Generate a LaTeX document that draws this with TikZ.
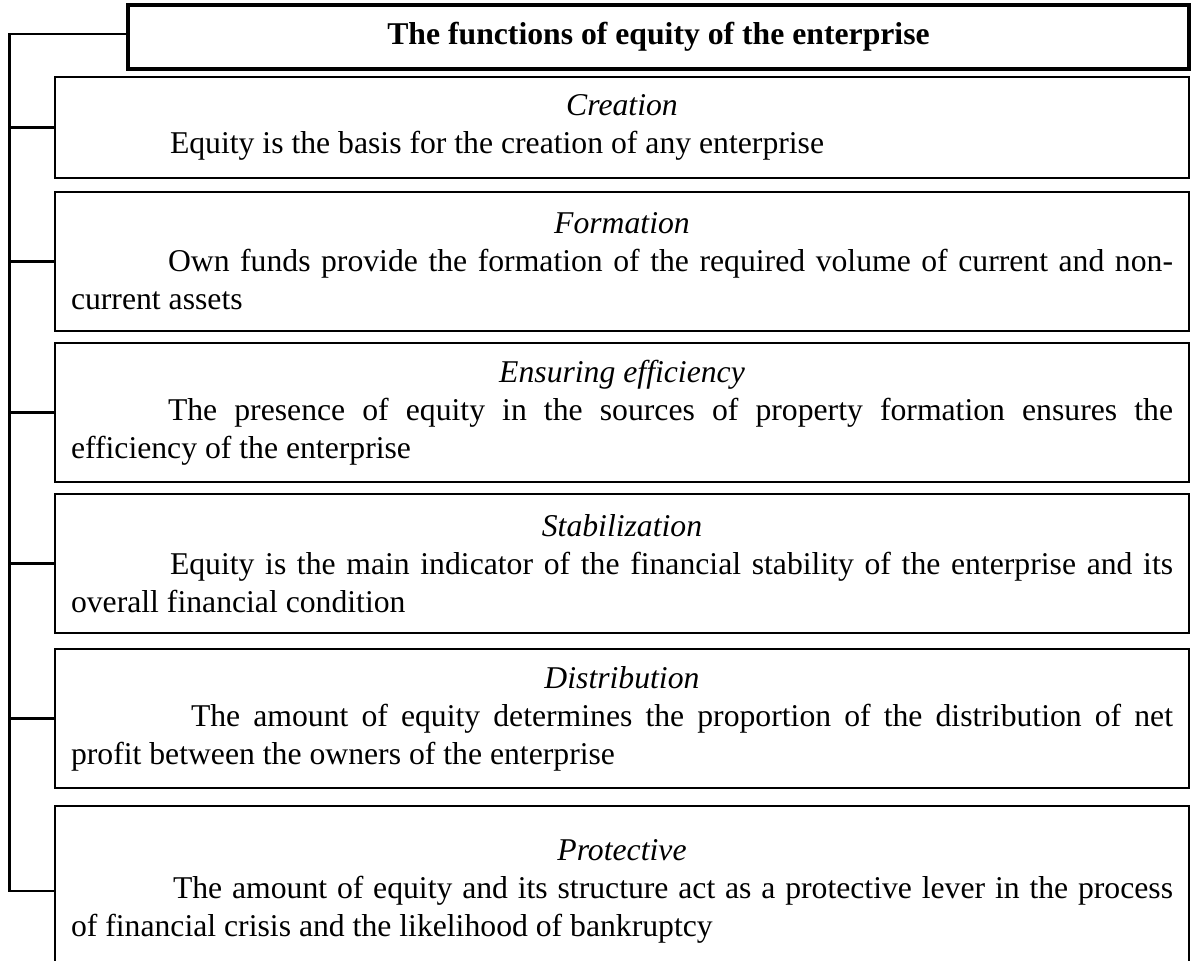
\documentclass[tikz,border=0pt]{standalone}
\usepackage{fontspec}
\setmainfont{Liberation Serif}
\tolerance=9999
\hbadness=10000
\newcommand{\bodysize}{\fontsize{31.7pt}{38pt}\selectfont}
\begin{document}
\begin{tikzpicture}[x=1pt,y=-1pt,
  fnbox/.style={draw, rectangle, line width=2.7pt, anchor=center,
    minimum width=1134pt, text width=1102pt, inner xsep=16pt, inner ysep=0pt,
    align=justify, font=\bodysize},
  titlebox/.style={draw, rectangle, line width=4.5pt, minimum width=1061pt,
    minimum height=64pt, inner sep=0pt, font=\bodysize\bfseries},
  conn/.style={line width=2.2pt}]
\clip (0,0) rectangle (1192,961);

% heading of the scheme
\node[titlebox] (title) at (658.5,37) {The functions of equity of the enterprise};

% one framed block per function
\node[fnbox, minimum height=101pt] (creation) at (622,127.5)
  {{\centering\itshape Creation\par}
   \hspace*{99pt}Equity is the basis for the creation of any enterprise};
\node[fnbox, minimum height=139pt] (formation) at (622,261.5)
  {{\centering\itshape Formation\par}
   \hspace*{97pt}Own funds provide the formation of the required volume of current and non-\linebreak current assets};
\node[fnbox, minimum height=139pt] (efficiency) at (622,412.5)
  {{\centering\itshape Ensuring efficiency\par}
   \hspace*{97pt}The presence of equity in the sources of property formation ensures the\linebreak efficiency of the enterprise};
\node[fnbox, minimum height=139pt] (stabil) at (622,563.5)
  {{\centering\itshape Stabilization\par}
   \hspace*{99pt}Equity is the main indicator of the financial stability of the enterprise and its\linebreak overall financial condition};
\node[fnbox, minimum height=139pt] (distrib) at (622,718.5)
  {{\centering\itshape Distribution\par}
   \hspace*{120pt}The amount of equity determines the proportion of the distribution of net\linebreak profit between the owners of the enterprise};
\node[fnbox, minimum height=170pt] (protect) at (622,891)
  {{\centering\itshape Protective\par}
   \hspace*{102pt}The amount of equity and its structure act as a protective lever in the process\linebreak of financial crisis and the likelihood of bankruptcy};

% left trunk with branches to every block
\coordinate (trunk) at (9.5,34);
\draw[conn] (title.west |- trunk) -- (trunk) -- (trunk |- protect.west) -- (protect.west);
\foreach \n in {creation, formation, efficiency, stabil, distrib}
  \draw[conn] (trunk |- \n.west) -- (\n.west);
\end{tikzpicture}
\end{document}
